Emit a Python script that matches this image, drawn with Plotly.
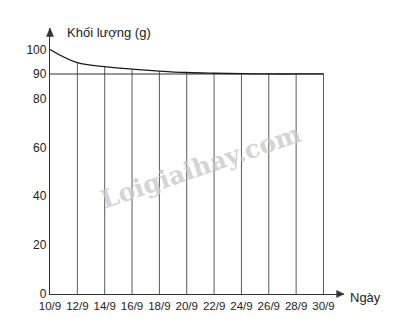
import plotly.graph_objects as go

days = [10, 12, 14, 16, 18, 20, 22, 24, 26, 28, 30]
day_labels = ["10/9", "12/9", "14/9", "16/9", "18/9", "20/9", "22/9", "24/9", "26/9", "28/9", "30/9"]
mass = [100, 94.6, 93.0, 92.0, 91.2, 90.6, 90.3, 90.1, 90.0, 90.0, 90.0]
y_ticks = [0, 20, 40, 60, 80, 90, 100]
ref_level = 90

FONT = "Liberation Sans, Arial, sans-serif"
INK = "#222222"

fig = go.Figure()

# vertical grid lines up to the curve
vx, vy = [], []
for d, m in zip(days[1:], mass[1:]):
    vx += [d, d, None]
    vy += [0, m, None]
fig.add_trace(go.Scatter(x=vx, y=vy, mode="lines",
                         line=dict(color="#5a5a5a", width=1), hoverinfo="skip", showlegend=False))

# horizontal 90 g line
fig.add_trace(go.Scatter(x=[days[0], days[-1]], y=[ref_level, ref_level], mode="lines",
                         line=dict(color="#333333", width=1.1), hoverinfo="skip", showlegend=False))

# mass curve
fig.add_trace(go.Scatter(x=days, y=mass, mode="lines", line_shape="spline",
                         line=dict(color="#1a1a1a", width=1.3, smoothing=1.1),
                         showlegend=False))

fig.update_xaxes(range=[10, 31.5], tickvals=days, ticktext=day_labels, automargin=False,
                 showgrid=False, zeroline=False, showline=True, linecolor="#333333", linewidth=1.3,
                 ticks="", ticklabelstandoff=1, tickfont=dict(family=FONT, size=11.5, color=INK))
fig.update_yaxes(range=[0, 108.8], tickvals=y_ticks, automargin=False,
                 showgrid=False, zeroline=False, showline=True, linecolor="#333333", linewidth=1.3,
                 ticks="", tickfont=dict(family=FONT, size=12, color=INK))

# axis arrowheads (paper coords)
fig.add_shape(type="path", xref="paper", yref="paper",
              path="M 0,1 L -0.012,0.968 L 0.012,0.968 Z",
              fillcolor="#333333", line=dict(color="#333333", width=0.5))
fig.add_shape(type="path", xref="paper", yref="paper",
              path="M 1,0 L 0.975,0.0135 L 0.975,-0.0135 Z",
              fillcolor="#333333", line=dict(color="#333333", width=0.5))

fig.add_annotation(text="Khối lượng (g)", xref="paper", yref="paper", x=0.051, y=0.982,
                   xanchor="left", yanchor="middle", showarrow=False,
                   font=dict(family=FONT, size=13, color=INK))
fig.add_annotation(text="Ngày", xref="paper", yref="paper", x=1.014, y=-0.012,
                   xanchor="left", yanchor="middle", showarrow=False,
                   font=dict(family=FONT, size=13, color=INK))

# watermark
fig.add_annotation(text="<b>Loigiaihay.com</b>", xref="paper", yref="paper", x=0.515, y=0.48,
                   xanchor="center", yanchor="middle", showarrow=False, textangle=-19,
                   font=dict(family="DejaVu Serif, serif", size=25, color="rgba(200,200,200,0.8)"))

fig.update_layout(width=394, height=318, margin=dict(l=50, r=50, t=28, b=24),
                  plot_bgcolor="white", paper_bgcolor="white")

fig.write_html("out.html")
